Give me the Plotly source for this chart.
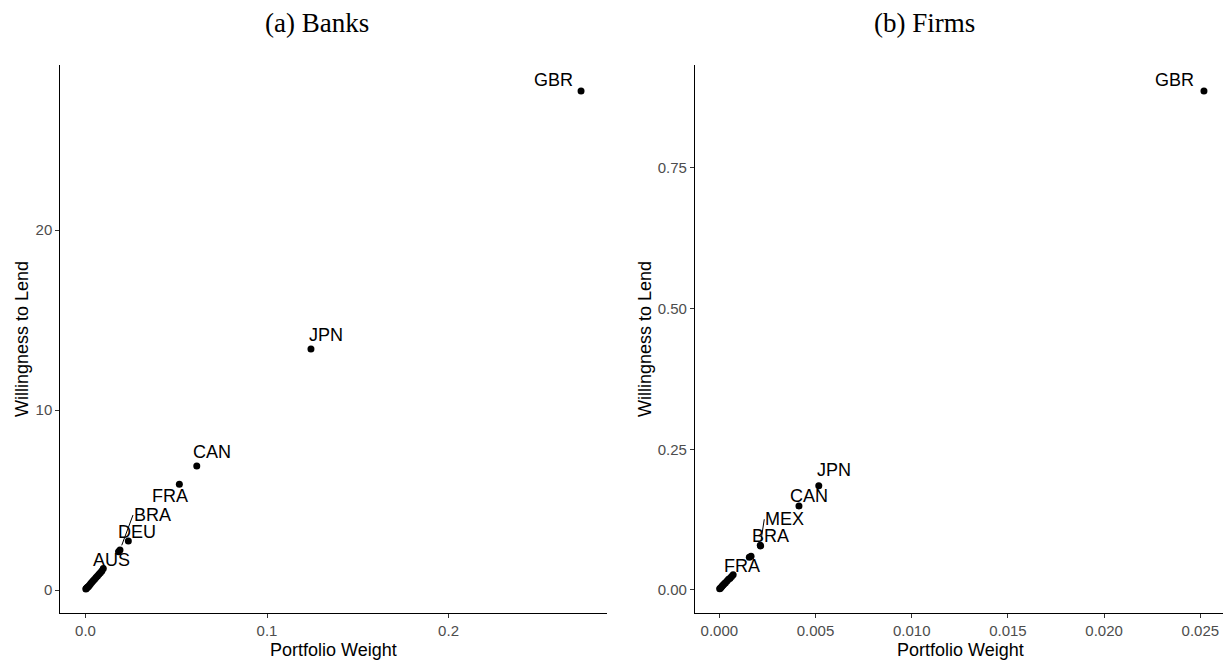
import plotly.graph_objects as go

# ---------------- data ----------------
# Panel (a) Banks: portfolio weight vs willingness to lend
banks_label = ["GBR", "JPN", "CAN", "FRA", "DEU", "BRA", "AUS",
               "", "", "", "", "", "", "", "", "", "", "", "", "", "", "", ""]
banks_weight = [0.273, 0.1242, 0.0613, 0.0517, 0.0236, 0.0190, 0.0098,
                0.0182, 0.0090, 0.0082, 0.0074, 0.0066, 0.0058, 0.0050, 0.0042,
                0.0035, 0.0028, 0.0022, 0.0016, 0.0012, 0.0008, 0.0004, 0.0002]
banks_wtl = [27.72, 13.39, 6.89, 5.87, 2.72, 2.22, 1.20,
             2.12, 1.05, 0.96, 0.88, 0.78, 0.70, 0.60, 0.52,
             0.43, 0.35, 0.27, 0.20, 0.16, 0.12, 0.08, 0.05]

# Panel (b) Firms
firms_label = ["GBR", "JPN", "CAN", "MEX", "BRA", "FRA",
               "", "", "", "", "", "", "", "", "", "", "", "", ""]
firms_weight = [0.02519, 0.00517, 0.00414, 0.00213, 0.00215, 0.00165,
                0.00156, 0.00072, 0.00064, 0.00056, 0.00048, 0.00040, 0.00032,
                0.00026, 0.00020, 0.00015, 0.00010, 0.00005, 0.00002]
firms_wtl = [0.8866, 0.1853, 0.1493, 0.0795, 0.0782, 0.0600,
             0.0580, 0.027, 0.024, 0.021, 0.019, 0.016, 0.013,
             0.011, 0.009, 0.007, 0.005, 0.003, 0.002]

banks_xticks = [0.0, 0.1, 0.2]
banks_xticktext = ["0.0", "0.1", "0.2"]
banks_yticks = [0, 10, 20]
banks_yticktext = ["0", "10", "20"]
firms_xticks = [0.0, 0.005, 0.010, 0.015, 0.020, 0.025]
firms_xticktext = ["0.000", "0.005", "0.010", "0.015", "0.020", "0.025"]
firms_yticks = [0.0, 0.25, 0.50, 0.75]
firms_yticktext = ["0.00", "0.25", "0.50", "0.75"]

# label placement offsets (pixels: right, up)
banks_offsets = {"GBR": (-28, 11), "JPN": (15, 14), "CAN": (15, 14), "FRA": (-9, -12),
                 "DEU": (9, 9), "BRA": (13, 35), "AUS": (8, 8)}
firms_offsets = {"GBR": (-29, 11), "JPN": (15, 16), "CAN": (10, 10), "MEX": (4, 26),
                 "BRA": (10, 10), "FRA": (-9, -10)}
# labels drawn with a leader segment (offset is the segment's tail at the label's left edge)
segment_labels = {("a", "BRA"), ("b", "MEX")}

W, H = 1223, 662
SANS = "Liberation Sans, Arial, sans-serif"
SERIF = "Liberation Serif, Times New Roman, serif"

fig = go.Figure()
fig.add_trace(go.Scatter(x=banks_weight, y=banks_wtl, mode="markers",
                         marker=dict(color="black", size=7),
                         xaxis="x", yaxis="y", hoverinfo="skip", cliponaxis=False))
fig.add_trace(go.Scatter(x=firms_weight, y=firms_wtl, mode="markers",
                         marker=dict(color="black", size=7),
                         xaxis="x2", yaxis="y2", hoverinfo="skip", cliponaxis=False))

annotations = []


def add_labels(panel, labels, xs, ys, offsets, xref, yref):
    for lab, x, y in zip(labels, xs, ys):
        if not lab:
            continue
        dx, dy = offsets[lab]
        if (panel, lab) in segment_labels:
            annotations.append(dict(x=x, y=y, xref=xref, yref=yref, text=lab,
                                    showarrow=True, arrowhead=0, arrowwidth=1,
                                    arrowcolor="black", ax=dx, ay=-dy, standoff=5,
                                    xanchor="left", yanchor="middle", borderpad=0,
                                    font=dict(family=SANS, size=18, color="black")))
        else:
            annotations.append(dict(x=x, y=y, xref=xref, yref=yref, text=lab,
                                    showarrow=False, xshift=dx, yshift=dy,
                                    font=dict(family=SANS, size=18, color="black")))


add_labels("a", banks_label, banks_weight, banks_wtl, banks_offsets, "x", "y")
add_labels("b", firms_label, firms_weight, firms_wtl, firms_offsets, "x2", "y2")

# titles
annotations.append(dict(text="(a) Banks", x=317 / W, y=1 - 23 / H, xref="paper", yref="paper",
                        showarrow=False, xanchor="center", yanchor="middle",
                        font=dict(family=SERIF, size=27, color="black")))
annotations.append(dict(text="(b) Firms", x=924 / W, y=1 - 23 / H, xref="paper", yref="paper",
                        showarrow=False, xanchor="center", yanchor="middle",
                        font=dict(family=SERIF, size=27, color="black")))
# axis titles
for cx in (333.7 / W, 960 / W):
    annotations.append(dict(text="Portfolio Weight", x=cx, y=1 - 650 / H, xref="paper", yref="paper",
                            showarrow=False, xanchor="center", yanchor="middle",
                            font=dict(family=SANS, size=18, color="black")))
for cx in (22 / W, 645 / W):
    annotations.append(dict(text="Willingness to Lend", x=cx, y=1 - 339 / H, xref="paper", yref="paper",
                            showarrow=False, xanchor="center", yanchor="middle", textangle=-90,
                            font=dict(family=SANS, size=18, color="black")))

ydom = [1 - 613 / H, 1 - 65 / H]
common = dict(showline=True, linecolor="black", linewidth=1.2, ticks="outside", ticklen=4,
              tickwidth=1, tickcolor="#333333", showgrid=False, zeroline=False,
              tickfont=dict(family=SANS, size=15, color="#4D4D4D"), mirror=False)

fig.update_layout(
    width=W, height=H, margin=dict(l=0, r=0, t=0, b=0),
    paper_bgcolor="white", plot_bgcolor="white", showlegend=False,
    xaxis=dict(domain=[60.4 / W, 607 / W], range=[-0.01383, 0.2873], anchor="y",
               tickvals=banks_xticks, ticktext=banks_xticktext, **common),
    yaxis=dict(domain=ydom, range=[-1.278, 29.17], anchor="x",
               tickvals=banks_yticks, ticktext=banks_yticktext, **common),
    xaxis2=dict(domain=[695 / W, 1.0], range=[-0.001263, 0.02618], anchor="y2",
                tickvals=firms_xticks, ticktext=firms_xticktext, **common),
    yaxis2=dict(domain=ydom, range=[-0.0409, 0.9328], anchor="x2",
                tickvals=firms_yticks, ticktext=firms_yticktext, **common),
    annotations=annotations,
)

fig.write_html("out.html")
